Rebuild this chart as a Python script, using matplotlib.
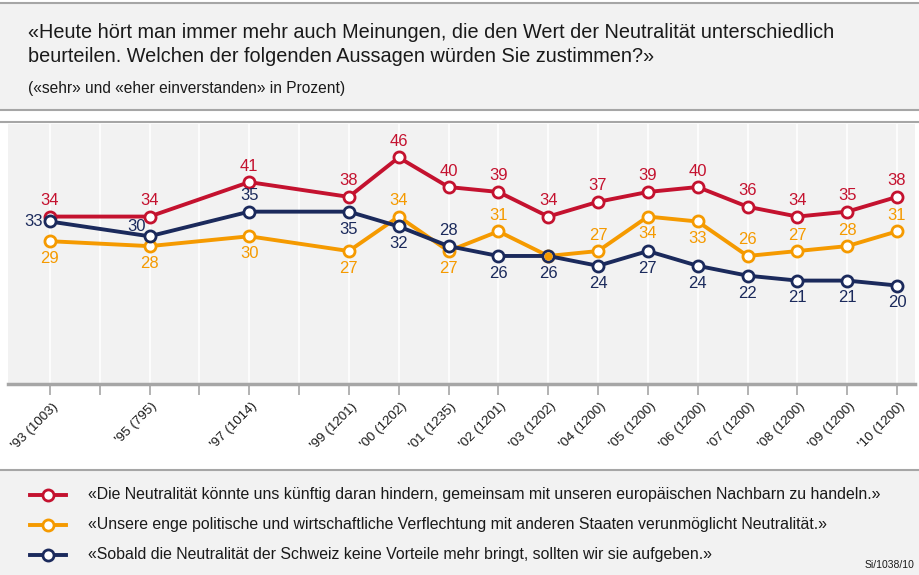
import numpy as np
import matplotlib.pyplot as plt
import matplotlib.transforms as mtransforms
from matplotlib.patches import Rectangle
from matplotlib.lines import Line2D

plt.rcParams['font.family'] = ['Liberation Sans', 'DejaVu Sans']

# Daten
jahre = [1993, 1995, 1997, 1999, 2000, 2001, 2002, 2003, 2004, 2005, 2006, 2007, 2008, 2009, 2010]
tick_labels = ["'93 (1003)", "'95 (795)", "'97 (1014)", "'99 (1201)", "'00 (1202)", "'01 (1235)",
               "'02 (1201)", "'03 (1202)", "'04 (1200)", "'05 (1200)", "'06 (1200)", "'07 (1200)",
               "'08 (1200)", "'09 (1200)", "'10 (1200)"]
hindern = [34, 34, 41, 38, 46, 40, 39, 34, 37, 39, 40, 36, 34, 35, 38]
verflechtung = [29, 28, 30, 27, 34, 27, 31, 26, 27, 34, 33, 26, 27, 28, 31]
vorteile = [33, 30, 35, 35, 32, 28, 26, 26, 24, 27, 24, 22, 21, 21, 20]

legend_texts = ["«Die Neutralität könnte uns künftig daran hindern, gemeinsam mit unseren europäischen Nachbarn zu handeln.»",
                "«Unsere enge politische und wirtschaftliche Verflechtung mit anderen Staaten verunmöglicht Neutralität.»",
                "«Sobald die Neutralität der Schweiz keine Vorteile mehr bringt, sollten wir sie aufgeben.»"]

# Labelpositionen: o = oben, u = unten, l = links, ol = oben links, '' = keins
pos_rot = ['o'] * 15
pos_orange = ['u', 'u', 'u', 'u', 'o', 'u', 'o', '', 'o', 'u', 'u', 'o', 'o', 'o', 'o']
pos_blau = ['l', 'ol', 'o', 'u', 'u', 'o', 'u', 'u', 'u', 'u', 'u', 'u', 'u', 'u', 'u']

rot = '#C4122F'
orange = '#F59A00'
blau = '#1B2A5C'
grau_bg = '#F2F2F2'
grau_linie = '#A6A6A6'

W, H = 919, 575
fig = plt.figure(figsize=(W / 100, H / 100), dpi=100)

def fy(y):
    return 1 - y / H

def fx(x):
    return x / W

# Kopfbereich
fig.add_artist(Rectangle((0, fy(110)), 1, fy(3) - fy(110), transform=fig.transFigure,
                         facecolor=grau_bg, edgecolor='none', zorder=0))
fig.add_artist(Line2D([0, 1], [fy(3), fy(3)], transform=fig.transFigure, color=grau_linie, lw=1.5))
fig.add_artist(Line2D([0, 1], [fy(110), fy(110)], transform=fig.transFigure, color=grau_linie, lw=1.5))
fig.text(fx(28), fy(33), "«Heute hört man immer mehr auch Meinungen, die den Wert der Neutralität unterschiedlich",
         fontsize=14.3, va='center', ha='left', color='#1a1a1a')
fig.text(fx(28), fy(57), "beurteilen. Welchen der folgenden Aussagen würden Sie zustimmen?»",
         fontsize=14.3, va='center', ha='left', color='#1a1a1a')
fig.text(fx(28), fy(88), "(«sehr» und «eher einverstanden» in Prozent)", fontsize=11.2,
         va='center', ha='left', color='#1a1a1a')

# Legendenbereich
fig.add_artist(Rectangle((0, 0), 1, fy(470), transform=fig.transFigure,
                         facecolor=grau_bg, edgecolor='none', zorder=0))
fig.add_artist(Line2D([0, 1], [fy(470), fy(470)], transform=fig.transFigure, color=grau_linie, lw=1.5))
for i, (txt, c) in enumerate(zip(legend_texts, [rot, orange, blau])):
    y = fy(495 + 30 * i)
    fig.add_artist(Line2D([fx(30), fx(66)], [y, y], transform=fig.transFigure, color=c, lw=2.8))
    fig.add_artist(Line2D([fx(48)], [y], transform=fig.transFigure, color=c, marker='o',
                          markersize=8, markerfacecolor='white', markeredgewidth=2))
    fig.text(fx(88), y, txt, fontsize=11.4, va='center', ha='left', color='#1a1a1a')
fig.text(fx(914), fy(565), "Si/1038/10", fontsize=7.5, va='center', ha='right', color='#1a1a1a')

# Diagramm
ax = fig.add_axes([fx(8), fy(384), fx(915) - fx(8), fy(124) - fy(384)])
ax.set_facecolor(grau_bg)
fig.add_artist(Line2D([0, 1], [fy(122), fy(122)], transform=fig.transFigure, color=grau_linie, lw=1.5))
ax.set_xlim(1992.16, 2010.36)
ax.set_ylim(0, 52.8)

alle_jahre = np.arange(1993, 2011)
for j in alle_jahre:
    ax.axvline(j, color='white', lw=1.2, zorder=1)

ax.set_xticks(alle_jahre)
lab = []
for j in alle_jahre:
    lab.append(tick_labels[jahre.index(j)] if j in jahre else '')
ax.set_xticklabels(lab, rotation=45, ha='right', va='center', rotation_mode='anchor',
                   fontsize=9.6, color='#1a1a1a')
ax.tick_params(axis='x', length=8, width=1.2, color=grau_linie, pad=4)
verschiebung = mtransforms.ScaledTranslation(6 / 100, -4 / 100, fig.dpi_scale_trans)
for t in ax.get_xticklabels():
    t.set_transform(t.get_transform() + verschiebung)
ax.set_yticks([])
for s in ['top', 'left', 'right']:
    ax.spines[s].set_visible(False)
ax.spines['bottom'].set_color(grau_linie)
ax.spines['bottom'].set_linewidth(2.5)

def offset(p):
    return {'o': (0, 11.5), 'u': (0, -12.5), 'l': (-12, 0), 'ol': (-9, 7)}[p]

for werte, c, lage, z in [(hindern, rot, pos_rot, 3), (verflechtung, orange, pos_orange, 4),
                          (vorteile, blau, pos_blau, 5)]:
    ax.plot(jahre, werte, color=c, lw=2.8, marker='o', markersize=8, markerfacecolor='white',
            markeredgewidth=2, zorder=z)
    for x, v, p in zip(jahre, werte, lage):
        if not p:
            continue
        ax.annotate(str(v), (x, v), xytext=offset(p), textcoords='offset points',
                    ha='center', va='center', fontsize=12, color=c, zorder=6)

# Überlappender Punkt '03 (orange auf blau)
ax.plot([2003], [26], marker='o', markersize=5, color=orange, zorder=6, lw=0)

fig.savefig('out.png', dpi=100)
